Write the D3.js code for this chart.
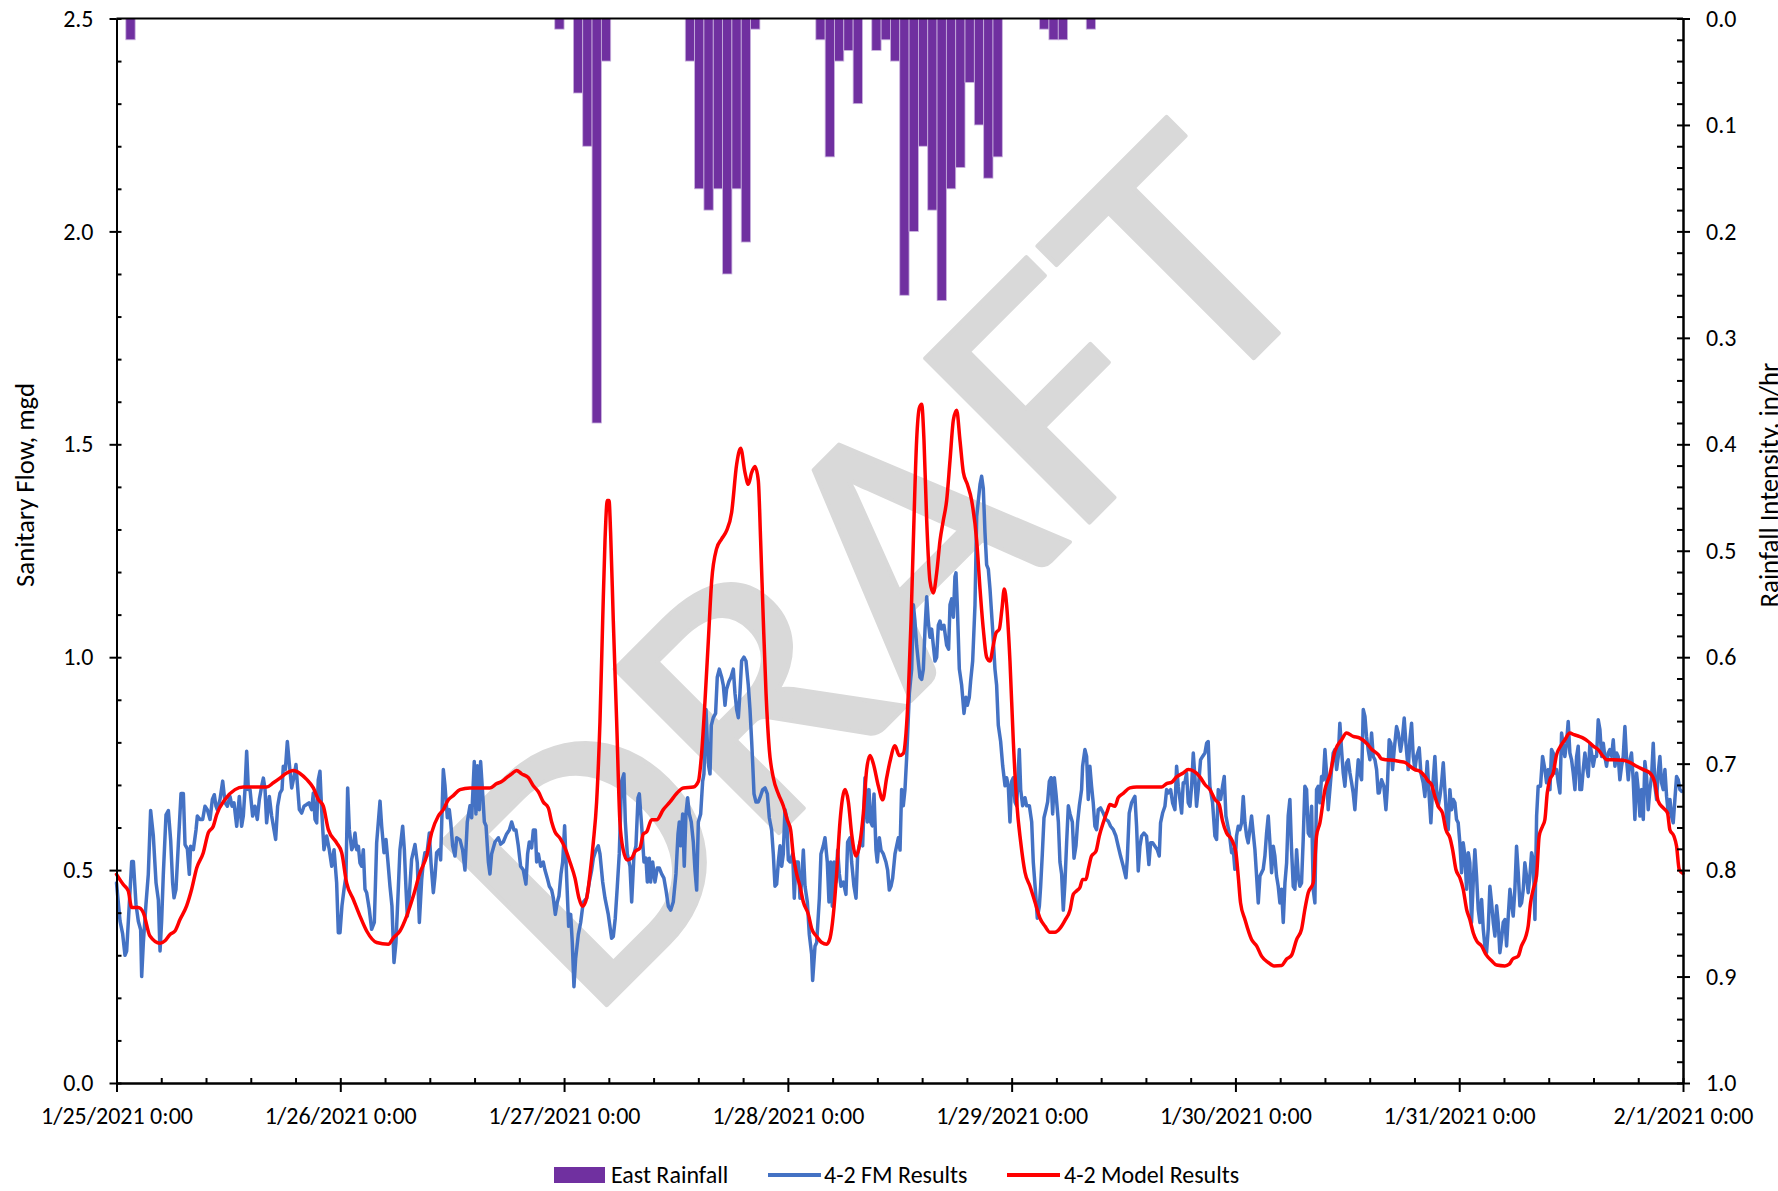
<!DOCTYPE html>
<html>
<head>
<meta charset="utf-8">
<script src="https://cdn.jsdelivr.net/npm/d3@7"></script>
<style>
  html, body { margin: 0; padding: 0; background: #fff; }
  svg { display: block; }
</style>
</head>
<body>
<svg id="chart" width="1778" height="1191"></svg>
<script>
// ---- Data -------------------------------------------------------------
// Hours are counted from 1/25/2021 0:00.
const xTickLabels = ["1/25/2021 0:00", "1/26/2021 0:00", "1/27/2021 0:00", "1/28/2021 0:00",
                     "1/29/2021 0:00", "1/30/2021 0:00", "1/31/2021 0:00", "2/1/2021 0:00"];
const flowTicks = [0, 0.5, 1.0, 1.5, 2.0, 2.5];
const rainTicks = [0, 0.1, 0.2, 0.3, 0.4, 0.5, 0.6, 0.7, 0.8, 0.9, 1.0];

// East Rainfall, hourly intensity (in/hr); hour of each non-zero bar
const rainHour = [1, 47, 49, 50, 51, 52, 61, 62, 63, 64, 65, 66, 67, 68, 75, 76, 77, 78, 79,
                  81, 82, 83, 84, 85, 86, 87, 88, 89, 90, 91, 92, 93, 94, 99, 100, 101, 104];
const rainInHr = [0.02, 0.01, 0.07, 0.12, 0.38, 0.04, 0.04, 0.16, 0.18, 0.16, 0.24, 0.16, 0.21, 0.01,
                  0.02, 0.13, 0.04, 0.03, 0.08, 0.03, 0.02, 0.04, 0.26, 0.20, 0.12, 0.18, 0.265,
                  0.16, 0.14, 0.06, 0.10, 0.15, 0.13, 0.01, 0.02, 0.02, 0.01];

// 4-2 FM Results: [hour, mgd]
const fmResults = [
[0,0.47],[0.38,0.38],[0.66,0.35],[0.91,0.30],[1.09,0.31],[1.27,0.38],[1.63,0.52],[1.81,0.52],[2.09,0.42],[2.34,0.38],
[2.59,0.36],[2.70,0.25],[2.88,0.33],[3.16,0.42],[3.41,0.49],[3.66,0.64],[3.95,0.58],[4.24,0.47],[4.49,0.43],[4.67,0.31],
[4.84,0.38],[5.02,0.49],[5.31,0.63],[5.56,0.64],[5.81,0.57],[6.02,0.47],[6.17,0.435],[6.38,0.455],[6.63,0.56],[6.92,0.68],
[7.17,0.68],[7.35,0.56],[7.60,0.55],[7.81,0.49],[7.95,0.556],[8.24,0.548],[8.53,0.595],[8.67,0.627],[8.95,0.619],[9.24,0.619],
[9.49,0.65],[9.74,0.642],[10.03,0.619],[10.28,0.666],[10.49,0.677],[10.67,0.65],[10.81,0.642],[11.10,0.666],[11.39,0.709],[11.64,0.658],
[11.89,0.65],[12.17,0.673],[12.39,0.65],[12.60,0.658],[12.89,0.603],[13.17,0.673],[13.42,0.603],[13.60,0.627],[13.78,0.689],[13.96,0.779],
[14.14,0.689],[14.32,0.689],[14.60,0.627],[14.85,0.65],[15.10,0.619],[15.32,0.666],[15.57,0.697],[15.75,0.716],[15.93,0.689],[16.10,0.611],
[16.39,0.673],[16.64,0.627],[16.89,0.595],[17.07,0.572],[17.28,0.65],[17.53,0.681],[17.75,0.689],[17.89,0.744],[18.11,0.736],[18.32,0.802],
[18.54,0.748],[18.79,0.693],[19.04,0.72],[19.25,0.748],[19.39,0.705],[19.61,0.642],[19.86,0.634],[20.11,0.65],[20.39,0.654],[20.64,0.658],
[20.93,0.642],[21.11,0.681],[21.29,0.619],[21.47,0.611],[21.64,0.712],[21.82,0.732],[22.00,0.642],[22.25,0.548],[22.54,0.58],[22.82,0.548],
[23.08,0.509],[23.33,0.548],[23.61,0.47],[23.79,0.353],[23.97,0.353],[24.18,0.416],[24.40,0.455],[24.61,0.486],[24.79,0.693],[24.97,0.595],
[25.22,0.548],[25.40,0.556],[25.58,0.587],[25.76,0.548],[25.94,0.556],[26.11,0.517],[26.29,0.509],[26.47,0.548],[26.65,0.455],[26.83,0.447],
[27.11,0.408],[27.36,0.361],[27.65,0.377],[27.90,0.564],[28.26,0.662],[28.44,0.603],[28.69,0.541],[28.90,0.572],[29.12,0.517],[29.33,0.462],
[29.54,0.416],[29.76,0.283],[29.97,0.330],[30.22,0.455],[30.40,0.548],[30.69,0.603],[30.87,0.548],[31.05,0.455],[31.19,0.392],[31.40,0.439],
[31.65,0.525],[32.01,0.560],[32.26,0.517],[32.48,0.377],[32.73,0.478],[32.90,0.517],[33.08,0.541],[33.26,0.533],[33.55,0.587],[33.73,0.517],
[33.98,0.447],[34.16,0.486],[34.33,0.541],[34.62,0.548],
[34.76,0.524],[35.05,0.736],[35.23,0.698],[35.48,0.623],[35.69,0.642],[35.84,0.613],[36.05,0.557],[36.30,0.533],[36.48,0.576],[36.84,0.571],
[37.12,0.547],[37.37,0.500],[37.62,0.613],[37.91,0.651],[38.09,0.623],[38.37,0.755],[38.55,0.632],[38.70,0.745],[38.91,0.642],[39.05,0.755],
[39.27,0.679],[39.45,0.613],[39.63,0.604],[39.88,0.519],[40.05,0.491],[40.23,0.538],[40.41,0.552],[40.59,0.566],[40.95,0.576],[41.20,0.561],
[41.48,0.566],[41.84,0.585],[42.13,0.594],[42.38,0.613],[42.63,0.594],[42.84,0.594],[43.09,0.557],[43.34,0.509],[43.63,0.500],[43.91,0.467],
[44.09,0.538],[44.27,0.566],[44.52,0.552],[44.70,0.594],[44.92,0.594],[45.06,0.519],[45.24,0.538],[45.49,0.509],[45.77,0.519],[45.95,0.500],
[46.20,0.481],[46.42,0.462],[46.67,0.453],[46.85,0.434],[47.06,0.396],[47.28,0.425],[47.45,0.439],[47.67,0.491],[47.85,0.519],[48.06,0.604],
[48.28,0.481],[48.49,0.368],[48.71,0.396],[48.88,0.330],[49.06,0.226],[49.24,0.292],[49.53,0.349],[49.78,0.377],[50.06,0.425],[50.42,0.434],
[50.71,0.472],[50.96,0.500],[51.14,0.528],[51.42,0.547],[51.67,0.557],[51.85,0.538],[52.14,0.472],[52.39,0.434],[52.74,0.396],[53.10,0.340],
[53.28,0.344],[53.49,0.387],[53.71,0.462],[53.92,0.538],[54.17,0.708],[54.42,0.726],[54.57,0.613],[54.78,0.538],[55.07,0.509],[55.25,0.425],
[55.50,0.538],[55.71,0.557],[55.93,0.670],[56.07,0.679],[56.32,0.604],[56.57,0.519],[56.78,0.528],[56.93,0.472],[57.14,0.528],[57.28,0.472],
[57.50,0.519],[57.75,0.472],[58.00,0.505],[58.21,0.505],[58.46,0.491],[58.71,0.481],[58.93,0.453],[59.18,0.415],[59.43,0.406],[59.71,0.425],
[60.00,0.491],[60.22,0.585],[60.36,0.613],[60.50,0.557],[60.72,0.632],[60.89,0.509],[61.07,0.632],[61.25,0.670],[61.43,0.632],[61.64,0.613],
[61.86,0.566],[62.04,0.500],[62.22,0.453],[62.40,0.613],[62.65,0.632],[62.86,0.708],[63.00,0.726],[63.22,0.877],[63.36,0.802],[63.50,0.745],
[63.65,0.726],[63.79,0.840],[64.00,0.858],[64.25,0.868],[64.43,0.953],[64.65,0.972],[64.90,0.953],[65.08,0.934],[65.26,0.887],[65.43,0.925],
[65.68,0.943],[65.90,0.953],[66.15,0.972],[66.33,0.915],[66.51,0.877],[66.69,0.858],[66.86,0.915],[67.04,0.991],[67.29,1.000],[67.51,0.991],
[67.76,0.934],[67.94,0.877],[68.12,0.802],[68.22,0.755],[68.37,0.679],[68.58,0.660],[68.83,0.660],[69.01,0.670],
[69.30,0.689],[69.55,0.693],[69.80,0.679],[70.01,0.623],[70.26,0.594],[70.44,0.538],[70.62,0.462],[70.80,0.467],[70.98,0.519],[71.16,0.557],
[71.34,0.509],[71.51,0.538],[71.69,0.642],[71.87,0.623],[72.05,0.524],[72.23,0.519],[72.52,0.538],[72.69,0.434],[72.87,0.519],[73.12,0.519],
[73.30,0.434],[73.48,0.472],[73.66,0.547],[73.84,0.462],[74.09,0.425],[74.30,0.349],[74.55,0.302],[74.66,0.241],[74.91,0.321],[75.09,0.330],
[75.38,0.434],[75.55,0.538],[75.80,0.557],[75.98,0.576],[76.23,0.519],[76.41,0.425],[76.59,0.519],[76.77,0.415],[76.95,0.519],[77.16,0.472],
[77.34,0.547],[77.52,0.491],[77.70,0.462],[77.95,0.472],[78.23,0.443],[78.41,0.566],[78.66,0.576],[78.84,0.519],[79.09,0.462],[79.31,0.434],
[79.49,0.538],[79.74,0.566],[80.02,0.557],[80.27,0.717],[80.52,0.613],[80.70,0.689],[80.88,0.613],[81.06,0.604],[81.24,0.679],[81.45,0.547],
[81.59,0.519],[81.81,0.576],[81.99,0.547],[82.24,0.538],[82.52,0.519],[82.70,0.500],[82.88,0.453],[83.06,0.462],[83.24,0.481],[83.49,0.538],
[83.67,0.557],[83.85,0.576],[84.03,0.547],[84.20,0.689],[84.38,0.651],[84.56,0.689],[84.74,0.764],[85.03,0.915],[85.28,0.972],[85.46,1.123],
[85.63,1.085],[85.81,1.028],[86.03,0.981],[86.17,0.953],[86.35,0.948],[86.53,0.972],[86.71,1.066],[86.89,1.142],[87.06,1.085],[87.24,1.047],
[87.42,1.066],[87.60,1.028],[87.78,0.991],[87.96,1.000],[88.14,1.075],[88.32,1.085],[88.49,1.066],[88.74,1.075],[89.03,1.028],[89.24,1.019],
[89.39,1.123],[89.57,1.137],[89.75,1.094],[89.92,1.189],[90.03,1.198],[90.17,1.123],[90.39,0.972],[90.64,0.934],[90.89,0.868],[91.10,0.906],
[91.25,0.887],[91.46,0.906],[91.60,0.943],[91.82,0.991],[92.07,1.123],[92.25,1.330],[92.43,1.368],[92.61,1.406],[92.78,1.425],[92.96,1.396],
[93.14,1.293],[93.32,1.217],[93.50,1.207],[93.68,1.160],[93.96,1.066],[94.21,0.972],[94.39,0.934],[94.57,0.840],[94.82,0.802],[95.04,0.745],
[95.29,0.698],[95.46,0.717],[95.64,0.698],[95.82,0.613],[96.00,0.708],[96.18,0.717],[96.36,0.660],[96.54,0.651],[96.82,0.783],[96.97,0.689],
[97.18,0.651],[97.43,0.670],[97.61,0.651],[97.90,0.651],[98.15,0.613],[98.32,0.519],[98.61,0.434],[98.75,0.387],[98.97,0.415],[99.11,0.462],
[99.29,0.538],[99.47,0.623],[99.68,0.642],[99.86,0.660],[100.04,0.708],[100.22,0.717],[100.40,0.632],[100.58,0.717],[100.76,0.679],[101.01,0.613],
[101.18,0.519],[101.36,0.491],[101.54,0.406],[101.72,0.472],[101.90,0.566],[102.08,0.651],[102.26,0.632],[102.51,0.613],[102.69,0.528],[102.90,0.557],
[103.08,0.613],[103.26,0.651],
[103.50,0.689],[103.61,0.744],[103.86,0.783],[104.04,0.767],[104.22,0.666],[104.39,0.744],[104.57,0.697],[104.75,0.658],[104.93,0.603],[105.11,0.595],
[105.29,0.642],[105.54,0.646],[105.82,0.634],[106.11,0.619],[106.36,0.615],[106.61,0.603],[106.90,0.595],[107.18,0.580],[107.43,0.556],[107.68,0.533],
[107.97,0.509],[108.26,0.482],[108.40,0.525],[108.61,0.634],[108.86,0.658],[109.04,0.666],[109.22,0.673],[109.40,0.603],[109.58,0.498],[109.76,0.556],
[109.94,0.580],[110.19,0.587],[110.47,0.580],[110.72,0.513],[110.90,0.564],[111.12,0.564],[111.37,0.556],[111.62,0.548],[111.83,0.533],[111.97,0.611],
[112.19,0.634],[112.44,0.650],[112.62,0.689],[112.80,0.681],[113.05,0.689],[113.26,0.658],[113.51,0.642],[113.69,0.744],[113.87,0.697],[114.05,0.666],
[114.23,0.634],[114.40,0.705],[114.58,0.705],[114.76,0.728],[114.94,0.658],[115.12,0.650],[115.30,0.697],[115.48,0.775],[115.65,0.720],[115.83,0.650],
[116.01,0.689],[116.26,0.759],[116.48,0.767],[116.73,0.775],[116.91,0.798],[117.08,0.802],[117.26,0.697],[117.55,0.658],[117.80,0.580],[117.98,0.572],
[118.16,0.689],[118.41,0.666],[118.62,0.697],[118.80,0.720],[118.98,0.627],[119.19,0.603],[119.34,0.587],[119.59,0.541],[119.77,0.548],[119.94,0.502],
[120.12,0.580],[120.30,0.603],[120.48,0.595],[120.66,0.611],[120.84,0.673],[121.02,0.611],[121.20,0.580],[121.37,0.564],[121.55,0.595],[121.73,0.627],
[121.91,0.587],[122.09,0.548],[122.27,0.486],[122.45,0.423],[122.63,0.486],[122.80,0.494],[122.98,0.502],[123.16,0.533],[123.34,0.587],[123.52,0.627],
[123.70,0.564],[123.88,0.494],[124.06,0.556],[124.23,0.533],[124.41,0.486],[124.59,0.462],[124.77,0.423],[124.95,0.455],[125.13,0.377],[125.31,0.470],
[125.49,0.517],[125.66,0.627],[125.84,0.666],[126.02,0.548],[126.20,0.462],[126.38,0.455],[126.56,0.548],[126.74,0.486],[126.91,0.462],[127.09,0.470],
[127.27,0.572],[127.45,0.697],[127.63,0.689],[127.81,0.587],[127.99,0.580],[128.17,0.650],[128.34,0.455],[128.52,0.423],[128.70,0.689],[128.88,0.697],
[129.06,0.658],[129.24,0.720],[129.42,0.712],[129.60,0.783],[129.77,0.728],[129.95,0.642],[130.13,0.689],[130.31,0.736],[130.49,0.775],[130.67,0.783],
[130.85,0.736],[131.03,0.767],[131.20,0.845],[131.38,0.783],[131.56,0.728],[131.74,0.697],[131.92,0.752],[132.10,0.759],[132.28,0.728],[132.46,0.705],
[132.63,0.681],[132.81,0.642],[132.99,0.705],[133.17,0.759],[133.35,0.728],[133.53,0.712],[133.71,0.877],[133.89,0.861],[134.06,0.814],[134.24,0.783],
[134.42,0.759],[134.60,0.822],[134.78,0.767],[134.96,0.759],[135.14,0.736],[135.31,0.681],
[135.42,0.681],[135.67,0.712],[135.92,0.697],[136.14,0.642],[136.28,0.689],[136.49,0.806],[136.67,0.798],[136.85,0.736],[137.03,0.783],[137.28,0.837],
[137.46,0.822],[137.71,0.779],[137.89,0.806],[138.10,0.857],[138.28,0.798],[138.53,0.736],[138.71,0.806],[138.89,0.845],[139.07,0.767],[139.25,0.736],
[139.43,0.767],[139.71,0.787],[139.89,0.728],[140.14,0.705],[140.32,0.673],[140.57,0.755],[140.78,0.673],[140.96,0.611],[141.14,0.689],[141.39,0.767],
[141.57,0.689],[141.75,0.650],[141.93,0.673],[142.11,0.705],[142.29,0.752],[142.46,0.689],[142.64,0.627],[142.82,0.595],[143.00,0.689],[143.18,0.642],
[143.36,0.666],[143.54,0.658],[143.71,0.619],[143.89,0.611],[144.07,0.564],[144.25,0.494],[144.43,0.564],[144.61,0.533],[144.79,0.455],[144.97,0.541],
[145.14,0.517],[145.32,0.377],[145.50,0.470],[145.68,0.548],[145.86,0.486],[146.04,0.408],[146.22,0.377],[146.40,0.431],[146.58,0.361],[146.75,0.322],
[146.93,0.306],[147.11,0.361],[147.29,0.462],[147.47,0.423],[147.65,0.377],[147.83,0.345],[148.01,0.416],[148.18,0.377],[148.36,0.306],[148.54,0.337],
[148.72,0.377],[148.90,0.384],[149.08,0.322],[149.26,0.392],[149.44,0.455],[149.61,0.423],[149.79,0.392],[149.97,0.455],[150.15,0.556],[150.33,0.494],
[150.51,0.416],[150.69,0.423],[150.87,0.455],[151.04,0.517],[151.22,0.486],[151.40,0.447],[151.58,0.486],[151.76,0.541],[151.94,0.525],[152.12,0.384],
[152.30,0.627],[152.47,0.697],[152.72,0.697],[152.94,0.767],[153.19,0.736],[153.37,0.705],[153.55,0.736],[153.73,0.689],[153.90,0.783],[154.08,0.775],
[154.26,0.728],[154.44,0.736],[154.62,0.705],[154.80,0.681],[154.98,0.822],[155.16,0.791],[155.33,0.767],[155.51,0.798],[155.69,0.849],[155.87,0.775],
[156.05,0.759],[156.23,0.728],[156.41,0.689],[156.59,0.767],[156.76,0.791],[156.94,0.689],[157.12,0.689],[157.30,0.736],[157.48,0.775],[157.66,0.744],
[157.84,0.720],[158.02,0.798],[158.19,0.775],[158.37,0.744],[158.55,0.767],[158.73,0.767],[158.91,0.853],[159.09,0.830],[159.27,0.767],[159.45,0.798],
[159.62,0.767],[159.80,0.744],[159.98,0.775],[160.16,0.783],[160.34,0.767],[160.52,0.806],[160.70,0.744],[160.88,0.775],[161.05,0.767],[161.23,0.712],
[161.41,0.744],[161.59,0.767],[161.77,0.837],[161.95,0.759],[162.13,0.712],[162.31,0.759],[162.48,0.775],[162.66,0.712],[162.84,0.619],[163.02,0.728],
[163.20,0.689],[163.38,0.627],[163.56,0.689],[163.74,0.619],[163.91,0.755],[164.09,0.720],[164.27,0.642],[164.45,0.689],[164.63,0.720],[164.81,0.798],
[164.99,0.697],[165.17,0.666],[165.34,0.728],[165.52,0.767],[165.70,0.705],[165.88,0.689],[166.06,0.736],[166.24,0.673],[166.42,0.634],[166.60,0.666],
[166.77,0.627],[166.95,0.611],[167.13,0.666],[167.31,0.720],[167.49,0.712],[167.67,0.689],[167.85,0.685]
];

// 4-2 Model Results: [hour, mgd]
const modelResults = [
[0,0.49],[0.73,0.466],[1.26,0.451],[1.63,0.412],[2.34,0.412],[2.88,0.40],[3.59,0.345],[4.67,0.328],[5.20,0.334],[5.74,0.349],
[6.27,0.357],[6.81,0.384],[7.52,0.416],[8.06,0.455],[8.60,0.505],[9.31,0.541],[9.85,0.588],[10.38,0.603],[10.74,0.630],[11.64,0.666],
[12.71,0.689],[13.60,0.695],[16.10,0.695],[16.82,0.705],[17.53,0.716],[18.25,0.728],[18.96,0.734],[19.68,0.727],[20.39,0.713],[21.11,0.693],
[21.64,0.666],[22.18,0.650],[22.72,0.595],[23.61,0.564],[24.15,0.541],[24.68,0.470],[25.40,0.431],[26.11,0.392],[26.83,0.357],[27.90,0.330],
[29.15,0.326],[29.69,0.341],[30.40,0.357],[31.12,0.392],[31.83,0.439],[32.55,0.494],[33.26,0.533],[33.80,0.588],[34.51,0.627],[35.05,0.642],
[35.59,0.665],[36.12,0.675],[36.84,0.689],[37.91,0.693],[40.05,0.693],[40.77,0.703],[41.31,0.708],[41.84,0.717],[42.38,0.726],[42.91,0.734],
[43.45,0.726],[44.17,0.717],[44.70,0.698],[45.24,0.684],[45.77,0.660],[46.31,0.646],[46.67,0.613],[47.02,0.590],[47.56,0.575],[48.10,0.552],
[48.63,0.519],[49.17,0.481],[49.60,0.434],[49.96,0.415],[50.42,0.434],[50.78,0.491],[51.14,0.566],[51.49,0.660],[51.85,0.849],[52.14,1.085],
[52.39,1.274],[52.64,1.368],[52.82,1.368],[52.99,1.293],[53.28,1.085],[53.64,0.849],[53.99,0.613],[54.35,0.547],[54.78,0.524],[55.25,0.528],
[55.60,0.543],[56.14,0.552],[56.50,0.585],[56.86,0.590],[57.39,0.618],[57.93,0.618],[58.64,0.642],[59.36,0.660],[60.07,0.680],[60.79,0.693],
[61.86,0.695],[62.40,0.708],[62.75,0.774],[63.11,0.896],[63.47,1.038],[63.83,1.179],[64.36,1.255],[64.90,1.278],[65.43,1.297],[65.97,1.340],
[66.51,1.453],[66.94,1.491],[67.40,1.434],[67.76,1.406],[68.12,1.434],[68.47,1.448],[68.83,1.415],[69.08,1.274],[69.37,1.085],[69.66,0.915],
[70.01,0.783],[70.44,0.717],[70.98,0.679],[71.51,0.651],[71.94,0.618],[72.30,0.594],[72.59,0.533],[72.94,0.491],[73.30,0.462],[73.66,0.425],
[74.20,0.396],[74.55,0.363],[75.09,0.344],[75.63,0.330],[76.16,0.326],[76.52,0.340],[76.88,0.396],[77.23,0.491],[77.59,0.613],[78.13,0.689],
[78.49,0.660],[78.84,0.585],[79.31,0.533],[79.74,0.566],[80.09,0.632],[80.45,0.736],[80.81,0.769],[81.17,0.750],[81.70,0.698],[82.17,0.665],
[82.60,0.717],[82.95,0.755],[83.49,0.792],[83.95,0.769],[84.38,0.774],[84.67,0.821],[84.92,0.915],[85.21,1.085],[85.46,1.274],[85.81,1.509],
[86.10,1.585],[86.35,1.594],[86.60,1.509],[86.89,1.321],[87.24,1.179],[87.60,1.151],[87.96,1.198],[88.32,1.274],[88.67,1.321],[89.03,1.368],
[89.39,1.462],[89.75,1.557],[90.10,1.580],[90.46,1.509],[90.82,1.434],[91.25,1.406],[91.71,1.368],[92.25,1.274],[92.61,1.160],[92.96,1.066],
[93.32,1.000],[93.68,0.991],[94.03,1.028],[94.32,1.057],[94.68,1.066],[94.96,1.113],[95.21,1.160],[95.46,1.123],[95.82,0.991],[96.18,0.802],
[96.54,0.660],[96.97,0.566],[97.43,0.495],[97.97,0.462],[98.50,0.425],[99.04,0.387],[99.58,0.368],[100.11,0.354],[100.65,0.354],[101.18,0.363],
[101.72,0.382],[102.26,0.406],[102.61,0.443],[102.96,0.451],[103.32,0.459],[103.61,0.478],[103.97,0.478],[104.22,0.502],[104.57,0.533],[105.04,0.544],
[105.40,0.580],[105.82,0.611],[106.25,0.638],[106.54,0.654],[107.08,0.650],[107.43,0.670],[107.97,0.680],[108.68,0.693],[109.40,0.695],[110.83,0.695],
[112.08,0.695],[112.62,0.703],[113.15,0.706],[113.69,0.719],[114.40,0.728],[114.94,0.736],[115.55,0.732],[116.19,0.719],[116.73,0.701],[117.26,0.689],
[117.80,0.666],[118.26,0.654],[118.62,0.615],[119.05,0.587],[119.59,0.572],[120.05,0.541],[120.30,0.486],[120.55,0.423],[121.02,0.384],[121.73,0.337],
[122.27,0.322],[122.80,0.298],[123.52,0.283],[124.13,0.275],[124.95,0.276],[125.49,0.291],[126.02,0.300],[126.56,0.337],[127.09,0.361],[127.45,0.408],
[127.81,0.447],[128.34,0.470],[128.70,0.580],[129.06,0.611],[129.60,0.689],[130.13,0.724],[130.67,0.779],[131.38,0.806],[131.92,0.822],[132.63,0.814],
[133.35,0.810],[134.06,0.798],[134.60,0.784],[135.32,0.771],[135.67,0.761],[136.21,0.759],[136.92,0.758],[137.64,0.755],[138.17,0.753],[138.71,0.744],
[139.25,0.736],[139.78,0.732],[140.32,0.720],[140.68,0.709],[141.03,0.701],[141.39,0.673],[141.75,0.650],[142.21,0.634],[142.57,0.595],[143.00,0.576],
[143.29,0.548],[143.64,0.502],[144.07,0.482],[144.43,0.455],[144.79,0.408],[145.14,0.384],[145.50,0.353],[145.86,0.334],[146.39,0.322],[146.86,0.302],
[147.47,0.287],[148.00,0.277],[148.90,0.275],[149.36,0.279],[149.72,0.291],[150.33,0.298],[150.68,0.322],[151.15,0.345],[151.40,0.369],[151.65,0.423],
[151.94,0.455],[152.29,0.486],[152.58,0.580],[152.94,0.603],[153.19,0.619],[153.44,0.681],[153.72,0.712],[154.08,0.728],[154.44,0.771],[154.87,0.791],
[155.33,0.806],[155.87,0.822],[156.30,0.818],[156.87,0.814],[157.30,0.810],[157.83,0.802],[158.37,0.791],[158.91,0.783],[159.44,0.767],[159.87,0.759],
[160.51,0.759],[161.59,0.758],[162.30,0.753],[163.02,0.744],[163.73,0.736],[164.45,0.728],[164.98,0.705],[165.34,0.662],[165.88,0.646],[166.34,0.634],
[166.59,0.595],[167.02,0.580],[167.31,0.556],[167.59,0.502],[168.00,0.492]
];

// ---- Layout -----------------------------------------------------------
const svg = d3.select("#chart");
const plot = { left: 116.5, right: 1683, top: 18.5, bottom: 1083 };
const HOUR = 3600000;
const t0 = Date.UTC(2021, 0, 25);
const t1 = Date.UTC(2021, 1, 1);
const at = h => new Date(t0 + h * HOUR);

const x = d3.scaleUtc().domain([t0, t1]).range([plot.left, plot.right]);
const yFlow = d3.scaleLinear().domain([0, 2.5]).range([plot.bottom, plot.top]);
const yRain = d3.scaleLinear().domain([0, 1]).range([plot.top, plot.bottom]);

const FONT = 'Carlito, Lato, "Open Sans", sans-serif';

// size the label font so a date label spans the same width as Calibri 18pt
function fitSize(str, base, target) {
  const p = svg.append("text").attr("font-family", FONT).attr("font-size", base).text(str);
  const w = p.node().getComputedTextLength();
  p.remove();
  return base * target / w;
}
const labelSize = fitSize(xTickLabels[0], 24, 152);
const titleSize = fitSize("Sanitary Flow, mgd", 26, 204);

// ---- Watermark --------------------------------------------------------
svg.append("text")
  .attr("transform", "translate(588,1024) rotate(-45)")
  .attr("font-family", FONT)
  .attr("font-weight", 400)
  .attr("font-size", 362)
  .attr("fill", "#d9d9d9")
  .attr("stroke", "#d9d9d9")
  .attr("stroke-width", 4)
  .attr("stroke-linejoin", "round")
  .attr("textLength", 1055)
  .attr("lengthAdjust", "spacingAndGlyphs")
  .text("DRAFT");

// ---- Rainfall bars (hanging from the top, secondary axis) -------------
const rain = rainHour.map((h, i) => ({ h, v: rainInHr[i] }));
svg.append("g").selectAll("rect").data(rain).join("rect")
  .attr("x", d => x(at(d.h)))
  .attr("width", d => x(at(d.h + 1)) - x(at(d.h)))
  .attr("y", yRain(0))
  .attr("height", d => yRain(d.v) - yRain(0))
  .attr("fill", "#7030A0")
  .attr("stroke", "#c9b2de")
  .attr("stroke-width", 0.8);

// ---- Flow lines -------------------------------------------------------
const fmLine = d3.line().x(d => x(at(d[0]))).y(d => yFlow(d[1]));
const modelLine = d3.line().curve(d3.curveMonotoneX).x(d => x(at(d[0]))).y(d => yFlow(d[1]));

svg.append("path").datum(fmResults)
  .attr("d", fmLine).attr("fill", "none")
  .attr("stroke", "#4472C4").attr("stroke-width", 3.5)
  .attr("stroke-linejoin", "round").attr("stroke-linecap", "round");

svg.append("path").datum(modelResults)
  .attr("d", modelLine).attr("fill", "none")
  .attr("stroke", "#FF0000").attr("stroke-width", 3.5)
  .attr("stroke-linejoin", "round").attr("stroke-linecap", "round");

// ---- Axes -------------------------------------------------------------
function styleAxis(g) {
  g.attr("font-family", FONT).attr("font-size", labelSize);
  g.selectAll("path.domain").attr("stroke", "#000").attr("stroke-width", 2);
  g.selectAll(".tick line").attr("stroke", "#000").attr("stroke-width", 2);
  g.selectAll(".tick text").attr("fill", "#000");
}

// top border line
svg.append("line")
  .attr("x1", plot.left).attr("x2", plot.right)
  .attr("y1", plot.top).attr("y2", plot.top)
  .attr("stroke", "#000").attr("stroke-width", 2);

const dayTicks = xTickLabels.map((_, i) => new Date(t0 + i * 24 * HOUR));
const minorX = d3.range(36).map(i => new Date(t0 + i * 4.8 * HOUR));

svg.append("g")
  .attr("transform", `translate(0,${plot.bottom})`)
  .call(d3.axisTop(x).tickValues(minorX).tickSize(5).tickSizeOuter(0).tickFormat(""))
  .call(styleAxis);

const gx = svg.append("g")
  .attr("transform", `translate(0,${plot.bottom})`)
  .call(d3.axisBottom(x).tickValues(dayTicks).tickSize(9).tickSizeOuter(0)
          .tickFormat((d, i) => xTickLabels[i]))
  .call(styleAxis);
gx.selectAll(".tick text").attr("y", 41).attr("dy", null);

svg.append("g")
  .attr("transform", `translate(${plot.left},0)`)
  .call(d3.axisRight(yFlow).tickValues(d3.range(26).map(i => i / 10)).tickSize(5).tickSizeOuter(0).tickFormat(""))
  .call(styleAxis);

svg.append("g")
  .attr("transform", `translate(${plot.left},0)`)
  .call(d3.axisLeft(yFlow).tickValues(flowTicks).tickSize(7).tickSizeOuter(0).tickPadding(16)
          .tickFormat(d3.format(".1f")))
  .call(styleAxis);

svg.append("g")
  .attr("transform", `translate(${plot.right},0)`)
  .call(d3.axisLeft(yRain).tickValues(d3.range(51).map(i => i / 50)).tickSize(6).tickSizeOuter(0).tickFormat(""))
  .call(styleAxis);

svg.append("g")
  .attr("transform", `translate(${plot.right},0)`)
  .call(d3.axisRight(yRain).tickValues(rainTicks).tickSize(7).tickSizeOuter(0).tickPadding(16)
          .tickFormat(d3.format(".1f")))
  .call(styleAxis);

// ---- Axis titles ------------------------------------------------------
svg.append("text")
  .attr("transform", "translate(25,485) rotate(-90)")
  .attr("text-anchor", "middle").attr("dominant-baseline", "central")
  .attr("font-family", FONT).attr("font-size", titleSize).attr("fill", "#000")
  .text("Sanitary Flow, mgd");

svg.append("text")
  .attr("transform", "translate(1769,485) rotate(-90)")
  .attr("text-anchor", "middle").attr("dominant-baseline", "central")
  .attr("font-family", FONT).attr("font-size", titleSize).attr("fill", "#000")
  .text("Rainfall Intensity, in/hr");

// ---- Legend -----------------------------------------------------------
const legendY = 1175;
const legend = svg.append("g").attr("font-family", FONT).attr("font-size", labelSize);
legend.append("rect").attr("x", 554).attr("y", legendY - 8).attr("width", 51).attr("height", 16)
  .attr("fill", "#7030A0");
legend.append("text").attr("x", 611).attr("y", legendY).attr("dy", "0.35em").text("East Rainfall");
legend.append("line").attr("x1", 768).attr("x2", 821).attr("y1", legendY).attr("y2", legendY)
  .attr("stroke", "#4472C4").attr("stroke-width", 4);
legend.append("text").attr("x", 824).attr("y", legendY).attr("dy", "0.35em").text("4-2 FM Results");
legend.append("line").attr("x1", 1007).attr("x2", 1060).attr("y1", legendY).attr("y2", legendY)
  .attr("stroke", "#FF0000").attr("stroke-width", 4);
legend.append("text").attr("x", 1064).attr("y", legendY).attr("dy", "0.35em").text("4-2 Model Results");
</script>
</body>
</html>
